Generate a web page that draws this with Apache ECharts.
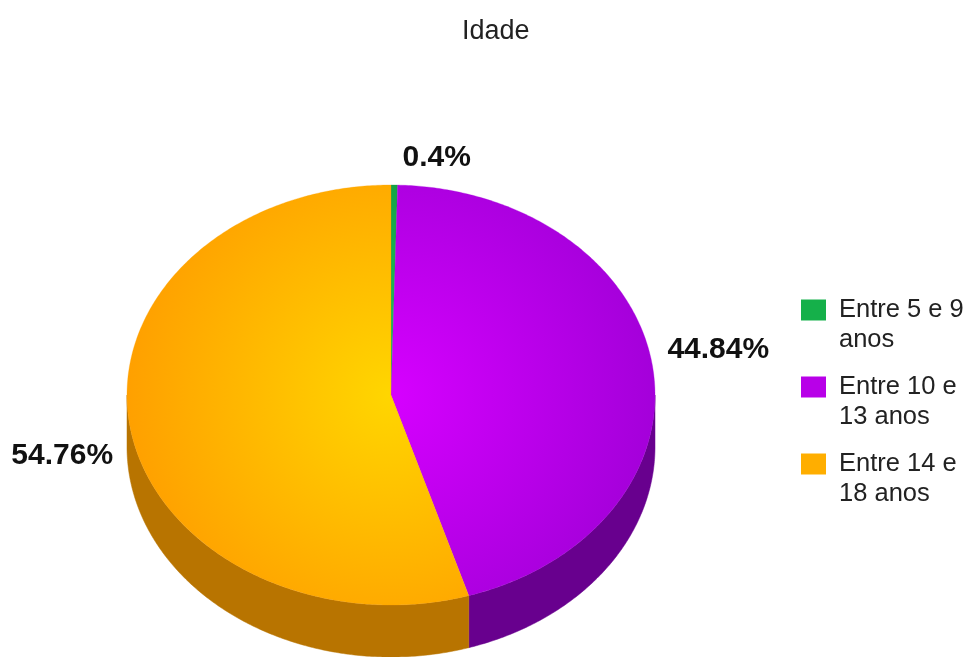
<!DOCTYPE html>
<html>
<head>
<meta charset="utf-8">
<script src="https://cdn.jsdelivr.net/npm/echarts@6/dist/echarts.min.js"></script>
<style>
  html, body { margin: 0; padding: 0; background: #ffffff; }
  #chart { width: 967px; height: 657px; }
</style>
</head>
<body>
<div id="chart"></div>
<script>
// Age groups and their share of respondents (%)
const categories = ['Entre 5 e 9 anos', 'Entre 10 e 13 anos', 'Entre 14 e 18 anos'];
const shares = [0.4, 44.84, 54.76];

// Colours: legend swatch, top face (centre / rim), extruded wall
const swatchColors = ['#15b04a', '#b800e8', '#ffae00'];
const topCenterColors = ['#22c862', '#d600ff', '#ffd600'];
const topRimColors = ['#0f9a3e', '#a400da', '#ffa000'];
const wallColors = ['#0b6e2c', '#68008e', '#b87400'];

// Pie geometry (pixels)
const PIE = { cx: 391, cy: 395, rx: 264, ry: 210, depth: 52 };
// Fine offsets for the value labels, per slice
const LABEL_NUDGE = [[8, -13], [1, -15], [-3, 27]];

const FONT = '"Liberation Sans", Arial, Helvetica, sans-serif';
const LEGEND_FONT_SIZE = 25.5;
const LEGEND_TEXT_WIDTH = 130;

const total = shares.reduce((a, b) => a + b, 0);
const startAngles = [];
shares.reduce((acc, v, i) => { startAngles[i] = acc; return acc + v / total * Math.PI * 2; }, 0);

// Greedy word wrap for legend entries
const measureCtx = document.createElement('canvas').getContext('2d');
measureCtx.font = LEGEND_FONT_SIZE + 'px ' + FONT;
function wrapWords(text, maxWidth) {
  const words = text.split(' ');
  const lines = [];
  let line = '';
  words.forEach(w => {
    const trial = line ? line + ' ' + w : w;
    if (line && measureCtx.measureText(trial).width > maxWidth) {
      lines.push(line);
      line = w;
    } else {
      line = trial;
    }
  });
  if (line) lines.push(line);
  return lines.join('\n');
}

function pt(theta, dy) {
  return [PIE.cx + PIE.rx * Math.sin(theta), PIE.cy - PIE.ry * Math.cos(theta) + (dy || 0)];
}
function arc(a, b, dy) {
  const n = Math.max(2, Math.ceil(Math.abs(b - a) / 0.01));
  const pts = [];
  for (let k = 0; k <= n; k++) pts.push(pt(a + (b - a) * k / n, dy));
  return pts;
}

function makeRender(idx) {
  return function (params, api) {
    const value = api.value(0);
    const s = startAngles[idx];
    const e = s + value / total * Math.PI * 2;
    const children = [];

    // Extruded wall for the part of the slice facing the viewer
    const ws = Math.max(s, Math.PI / 2);
    const we = Math.min(e, Math.PI * 1.5);
    if (we > ws) {
      const top = arc(ws, we, 0);
      const bottom = arc(we, ws, PIE.depth);
      children.push({
        type: 'polygon', z2: 1,
        shape: { points: top.concat(bottom) },
        style: { fill: wallColors[idx], stroke: wallColors[idx], lineWidth: 0.5 }
      });
    }

    // Top face
    children.push({
      type: 'polygon', z2: 10,
      shape: { points: [[PIE.cx, PIE.cy]].concat(arc(s, e, 0)) },
      style: {
        fill: {
          type: 'radial', x: PIE.cx, y: PIE.cy, r: PIE.rx, global: true,
          colorStops: [
            { offset: 0, color: topCenterColors[idx] },
            { offset: 1, color: topRimColors[idx] }
          ]
        },
        stroke: topRimColors[idx], lineWidth: 0.3
      }
    });

    // Value label
    const m = (s + e) / 2;
    const sin = Math.sin(m), cos = Math.cos(m);
    const ax = PIE.cx + (PIE.rx + 14) * sin + LABEL_NUDGE[idx][0];
    const ay = PIE.cy - (PIE.ry + 14) * cos + LABEL_NUDGE[idx][1];
    children.push({
      type: 'text', z2: 20,
      x: ax, y: ay,
      style: {
        text: value + '%',
        fill: '#111111',
        font: 'bold 30px ' + FONT,
        align: sin >= 0 ? 'left' : 'right',
        verticalAlign: 'middle'
      }
    });

    return { type: 'group', children: children };
  };
}

const chart = echarts.init(document.getElementById('chart'), null, { renderer: 'canvas' });
chart.setOption({
  backgroundColor: '#ffffff',
  animation: false,
  title: {
    text: 'Idade',
    left: 457, top: 13,
    textStyle: { fontFamily: FONT, fontSize: 27, fontWeight: 'normal', color: '#222222' }
  },
  legend: {
    orient: 'vertical',
    left: 796, top: 260,
    icon: 'rect',
    itemWidth: 25, itemHeight: 21,
    itemGap: -13,
    data: categories,
    // leading blank line keeps the first text line level with the swatch
    formatter: name => '\n' + wrapWords(name, LEGEND_TEXT_WIDTH),
    textStyle: {
      fontFamily: FONT, fontSize: LEGEND_FONT_SIZE, color: '#222222',
      lineHeight: 30,
      padding: [0, 0, 0, 8]
    }
  },
  series: categories.map((name, i) => ({
    type: 'custom',
    name: name,
    coordinateSystem: 'none',
    itemStyle: { color: swatchColors[i] },
    data: [shares[i]],
    renderItem: makeRender(i)
  }))
});
</script>
</body>
</html>
